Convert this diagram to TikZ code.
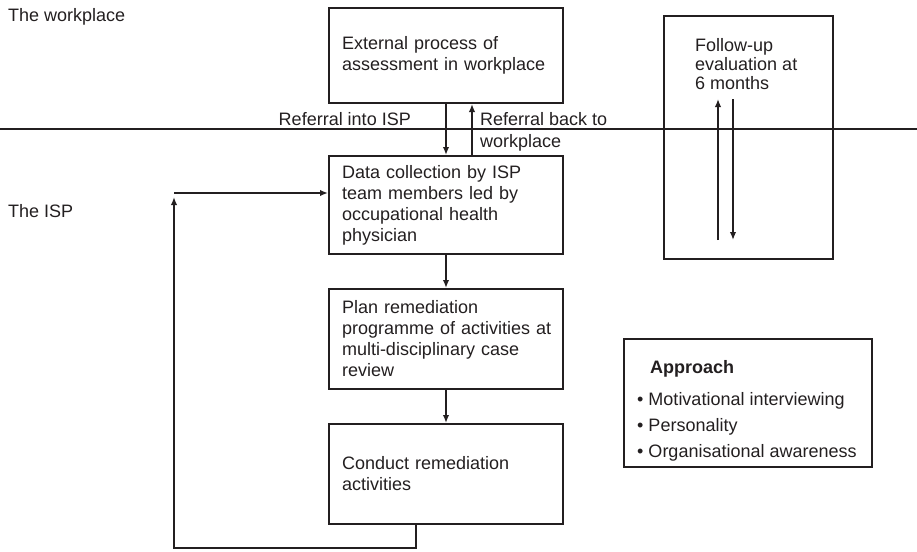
\documentclass[tikz,border=0pt]{standalone}
\usepackage{fontspec}
\setmainfont{Liberation Sans}
\usetikzlibrary{arrows.meta}
\definecolor{ink}{HTML}{231F20}
\begin{document}
\begin{tikzpicture}[x=1pt,y=-1pt,
  font=\fontsize{18}{21}\selectfont, color=ink, text=ink,
  every node/.style={inner sep=0pt},
  flowbox/.style={draw, line width=2pt, text width=208pt, inner xsep=13pt,
    inner ysep=0pt, align=left, anchor=north west},
  plainbox/.style={draw, line width=2pt, anchor=north west},
  lbl/.style={align=left},
  arr/.style={line width=1.9pt, -{Latex[length=8pt,width=6.5pt]}},
  ln/.style={line width=1.9pt}]
\useasboundingbox (0,0) rectangle (917,551);

% region labels
\node[lbl, anchor=base west] (twp) at (8,22) {The workplace};
\node[lbl, anchor=base west] (tisp) at (8,217) {The ISP};

% dividing line
\coordinate (hl1) at (0,129);
\coordinate (hl2) at (917,129);
\draw[ln] (hl1) -- (hl2);

% flow boxes
\node[flowbox, minimum height=95pt] (b1) at (328,7)
  {External process of\\assessment in workplace};
\node[flowbox, minimum height=98pt] (b2) at (328,155)
  {Data collection by ISP\\team members led by\\occupational health\\physician};
\node[flowbox, minimum height=100pt] (b3) at (328,288)
  {Plan remediation\\\mbox{programme of activities at}\\multi-disciplinary case\\review};
\node[flowbox, minimum height=100pt] (b4) at (328,423)
  {Conduct remediation\\activities};

% referral arrows and labels
\draw[arr] (b1.south) -- (b2.north);
\draw[arr] ([xshift=26pt]b2.north) -- ([xshift=26pt]b1.south);
\node[lbl, anchor=base east] (rin) at (411,125) {Referral into ISP};
\node[lbl, anchor=north west] (rback) at (480,112) {Referral back to\\[1pt]workplace};

% main flow
\draw[arr] (b2.south) -- (b3.north);
\draw[arr] (b3.south) -- (b4.north);

% feedback loop
\coordinate (lp) at (174,193);
\draw[arr] ([xshift=-30pt]b4.south) -- ++(0,23) -| ([yshift=-4pt]lp);
\draw[arr] (lp) -- (lp -| b2.west);

% follow-up box
\node[plainbox, minimum width=169pt, minimum height=243pt] (fu) at (663,15) {};
\node[lbl, anchor=north west] (fut) at (695,38)
  {Follow-up\\[-2pt]evaluation at\\[-2pt]6 months};
\coordinate (u1) at (718,240);
\coordinate (u2) at (718,99);
\coordinate (d1) at (733,99);
\coordinate (d2) at (733,240);
\draw[arr] (u1) -- (u2);
\draw[arr] (d1) -- (d2);

% approach box
\node[plainbox, minimum width=248pt, minimum height=128pt] (ap) at (623,338) {};
\node[lbl, anchor=north west] (apt) at (637,360)
  {\hspace*{13pt}\textbf{Approach}\\[11pt]
   \textbullet\ Motivational interviewing\\[5pt]
   \textbullet\ Personality\\[5pt]
   \textbullet\ Organisational awareness};
\end{tikzpicture}
\end{document}
